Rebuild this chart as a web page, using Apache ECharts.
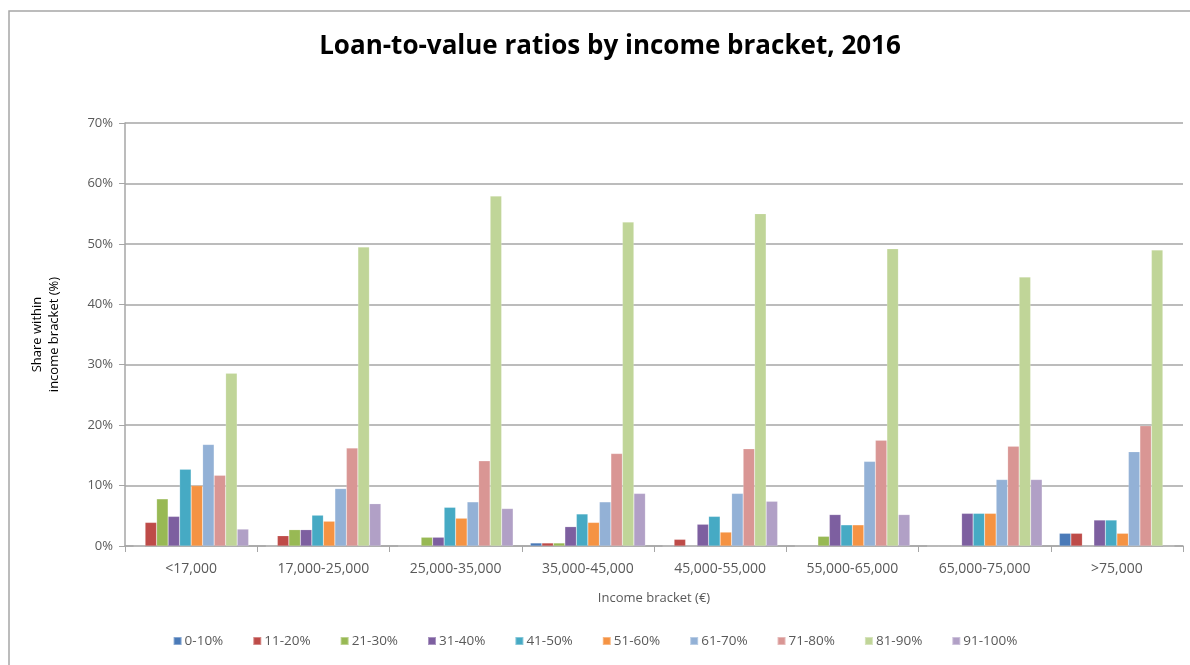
<!DOCTYPE html>
<html>
<head>
<meta charset="utf-8">
<title>Loan-to-value ratios by income bracket, 2016</title>
<script src="https://cdn.jsdelivr.net/npm/echarts@6/dist/echarts.min.js"></script>
<style>
  html, body { margin: 0; padding: 0; background: #fff; }
  #chart { width: 1190px; height: 665px; }
</style>
</head>
<body>
<div id="chart"></div>
<script>
// income brackets (x axis)
const brackets = ['<17,000', '17,000-25,000', '25,000-35,000', '35,000-45,000',
  '45,000-55,000', '55,000-65,000', '65,000-75,000', '>75,000']

// LTV bands, one series each; values = share within bracket (%)
const ltv0to10   = [0,   0,   0,    0.5,  0,    0,    0,    2.1]
const ltv11to20  = [3.9, 1.7, 0,    0.5,  1.1,  0,    0,    2.1]
const ltv21to30  = [7.8, 2.7, 1.45, 0.5,  0,    1.6,  0,    0]
const ltv31to40  = [4.9, 2.7, 1.45, 3.2,  3.6,  5.2,  5.4,  4.3]
const ltv41to50  = [12.7, 5.1, 6.4, 5.3,  4.9,  3.5,  5.4,  4.3]
const ltv51to60  = [10.0, 4.1, 4.6, 3.9,  2.3,  3.5,  5.4,  2.1]
const ltv61to70  = [16.8, 9.5, 7.3, 7.3,  8.7,  14.0, 11.0, 15.6]
const ltv71to80  = [11.7, 16.2, 14.1, 15.3, 16.1, 17.5, 16.5, 19.9]
const ltv81to90  = [28.6, 49.5, 57.9, 53.6, 55.0, 49.2, 44.5, 49.0]
const ltv91to100 = [2.8, 7.0, 6.2, 8.7,   7.4,  5.2,  11.0, 0]

const bandNames = ['0-10%', '11-20%', '21-30%', '31-40%', '41-50%',
  '51-60%', '61-70%', '71-80%', '81-90%', '91-100%']
const bandValues = [ltv0to10, ltv11to20, ltv21to30, ltv31to40, ltv41to50,
  ltv51to60, ltv61to70, ltv71to80, ltv81to90, ltv91to100]

// y axis ticks
const yTicks = [0, 10, 20, 30, 40, 50, 60, 70]

// excel-ish palette
const colors = ['#4a7ab8', '#be4b48', '#98b954', '#7d5fa0', '#46aac4',
  '#f59343', '#93b1d6', '#d99694', '#c0d598', '#b1a0c6']

const font = 'Open Sans'
const txtColor = '#595959'

const chart = echarts.init(document.getElementById('chart'))
chart.setOption({
  animation: false,
  color: colors,
  textStyle: { fontFamily: font },
  graphic: [
    {
      // chart frame (only top & left visible in the reference)
      type: 'rect',
      shape: { x: 9, y: 11, width: 1200, height: 700 },
      style: { fill: 'none', stroke: '#a6a6a6', lineWidth: 1.5 },
      silent: true
    }
  ],
  title: {
    text: 'Loan-to-value ratios by income bracket, 2016',
    left: 605,
    top: 29,
    textAlign: 'center',
    textStyle: {
      fontFamily: font,
      fontSize: 26,
      fontWeight: 'bold',
      color: '#000'
    }
  },
  legend: {
    bottom: 12,
    left: 'center',
    icon: 'rect',
    itemWidth: 8,
    itemHeight: 8,
    itemGap: 29,
    textStyle: { fontFamily: font, fontSize: 13.5, color: txtColor, padding: [0, 0, 0, -2] },
    data: bandNames
  },
  grid: {
    left: 125,
    right: 7,
    top: 123,
    bottom: 119
  },
  xAxis: {
    type: 'category',
    data: brackets,
    name: 'Income bracket (€)',
    nameLocation: 'middle',
    nameGap: 46,
    nameTextStyle: { fontFamily: font, fontSize: 13, color: txtColor },
    axisLine: { lineStyle: { color: '#a6a6a6', width: 1.5 } },
    axisTick: { show: true, length: 6, lineStyle: { color: '#a6a6a6' } },
    axisLabel: { fontFamily: font, fontSize: 14, color: txtColor, margin: 16 }
  },
  yAxis: {
    type: 'value',
    min: yTicks[0],
    max: yTicks[yTicks.length - 1],
    interval: 10,
    name: 'Share within\nincome bracket (%)',
    nameLocation: 'middle',
    nameGap: 62,
    nameRotate: 90,
    nameTextStyle: { fontFamily: font, fontSize: 13, color: '#000', lineHeight: 17 },
    axisLine: { show: true, lineStyle: { color: '#a6a6a6', width: 1.5 } },
    axisTick: { show: true, length: 6, lineStyle: { color: '#a6a6a6' } },
    axisLabel: {
      fontFamily: font, fontSize: 13, color: txtColor, margin: 12,
      formatter: v => v + '%'
    },
    splitLine: { lineStyle: { color: '#a6a6a6', width: 1.5 } }
  },
  series: bandNames.map((nm, i) => ({
    name: nm,
    type: 'bar',
    data: bandValues[i],
    barGap: '0%',
    barCategoryGap: '13%',
    itemStyle: { borderColor: 'rgba(255,255,255,0.35)', borderWidth: 0.5 }
  }))
})
</script>
</body>
</html>
